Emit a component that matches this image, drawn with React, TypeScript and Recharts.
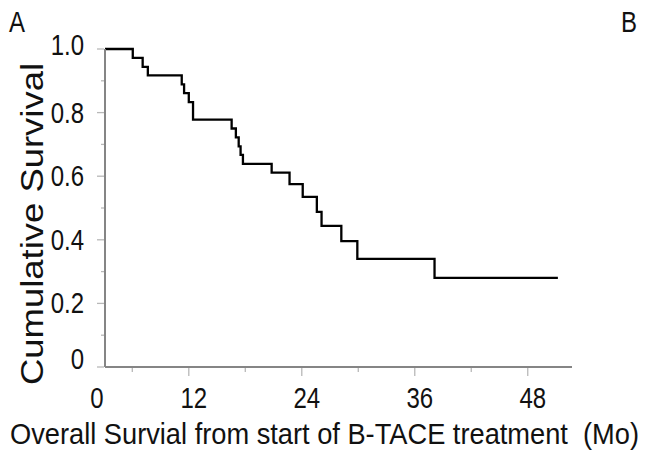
import { LineChart, Line, XAxis, YAxis } from 'recharts';

// Kaplan-Meier steps (months, cumulative survival)
const months = [3.1, 6.05, 7.1, 7.65, 11.25, 11.5, 12.0, 12.45, 16.55, 17.0, 17.3, 17.5, 17.75, 20.8, 22.7, 24.1, 25.6, 26.1, 28.2, 29.9, 38.1, 51.2];
const survival = [1.0, 0.972, 0.944, 0.917, 0.889, 0.861, 0.833, 0.778, 0.75, 0.722, 0.694, 0.667, 0.639, 0.611, 0.575, 0.535, 0.488, 0.444, 0.396, 0.34, 0.28, 0.28];

const xMin = 3.1;
const xMax = 52.7;
const xTicks = [3.1, 6, 12, 18, 24, 30, 36, 42, 48];
const xLabelAt = [3.1, 12, 24, 36, 48];
const xTickLabels = ['0', '12', '24', '36', '48'];

const yTicks = [0, 0.1, 0.2, 0.3, 0.4, 0.5, 0.6, 0.7, 0.8, 0.9, 1.0];
const yLabelAt = [0, 0.2, 0.4, 0.6, 0.8, 1.0];
const yTickLabels = ['0', '0.2', '0.4', '0.6', '0.8', '1.0'];

const data = months.map((m, i) => ({ month: m, surv: survival[i] }));

// no narrow font installed, so squeeze Liberation Sans horizontally
const FONT = "'Liberation Sans', Arial, sans-serif";
const SQ = 0.8;
const tickGray = '#b8b8b8';
const axisGray = '#858585';

const NarrowText = ({ x, y, anchor, size, children }: any) => (
  <text transform={`translate(${x},${y}) scale(${SQ},1)`} textAnchor={anchor} fontSize={size} fontFamily={FONT} fill="#111">
    {children}
  </text>
);

const XTick = (props: any) => {
  const { x, y, payload } = props;
  const v = payload.value;
  const idx = xLabelAt.indexOf(v);
  const major = idx >= 0;
  return (
    <g>
      {v !== xMin && (
        <line x1={x} x2={x} y1={y + 1} y2={y + (major ? 9 : 5)} stroke={tickGray} strokeWidth={1.3} />
      )}
      {major && (
        <NarrowText x={x + (v === xMin ? -8 : 5)} y={y + 41} anchor="middle" size={30}>
          {xTickLabels[idx]}
        </NarrowText>
      )}
    </g>
  );
};

const YTick = (props: any) => {
  const { x, y, payload } = props;
  const v = payload.value;
  const idx = yLabelAt.indexOf(v);
  const major = idx >= 0;
  return (
    <g>
      <line x1={x - (major ? 8 : 4)} x2={x - 1} y1={y} y2={y} stroke={tickGray} strokeWidth={1.3} />
      {major && (
        <NarrowText x={x - 21} y={y + 10 - (v === 0 ? 8 : 0) - (v === 1 ? 4 : 0)} anchor="end" size={30}>
          {yTickLabels[idx]}
        </NarrowText>
      )}
    </g>
  );
};

export default function App() {
  return (
    <div style={{ position: 'absolute', left: 0, top: 0, width: 646, height: 454, background: '#fff' }}>
      <LineChart width={646} height={454} data={data} margin={{ top: 49, right: 74, bottom: 0, left: 0 }}>
        <XAxis
          dataKey="month"
          type="number"
          domain={[xMin, xMax]}
          allowDataOverflow
          ticks={xTicks}
          interval={0}
          tickSize={0}
          tickMargin={0}
          tickLine={false}
          tick={<XTick />}
          height={87}
          axisLine={{ stroke: axisGray, strokeWidth: 2 }}
          label={{
            content: (p: any) => (
              <text
                x={10}
                y={p.viewBox.y + 77}
                textLength={629}
                lengthAdjust="spacingAndGlyphs"
                fontSize={30}
                fontFamily={FONT}
                fill="#111"
              >
                {'Overall Survial from start of B-TACE treatment\u00a0 (Mo)'}
              </text>
            ),
          }}
        />
        <YAxis
          type="number"
          domain={[0, 1]}
          ticks={yTicks}
          interval={0}
          width={105}
          tickSize={0}
          tickMargin={0}
          tickLine={false}
          tick={<YTick />}
          axisLine={{ stroke: axisGray, strokeWidth: 2 }}
          label={{
            content: () => {
              const bx = 43;
              const by = 385;
              return (
                <g>
                  <NarrowText x={9} y={32} anchor="start" size={30}>A</NarrowText>
                  <NarrowText x={621} y={32} anchor="start" size={30}>B</NarrowText>
                  <text
                    x={bx}
                    y={by}
                    transform={`rotate(-90, ${bx}, ${by})`}
                    textLength={322}
                    lengthAdjust="spacingAndGlyphs"
                    fontSize={31}
                    fontFamily={FONT}
                    fill="#111"
                  >
                    Cumulative Survival
                  </text>
                </g>
              );
            },
          }}
        />
        <Line
          type="stepAfter"
          dataKey="surv"
          stroke="#000"
          strokeWidth={2.3}
          dot={false}
          isAnimationActive={false}
        />
      </LineChart>
    </div>
  );
}
